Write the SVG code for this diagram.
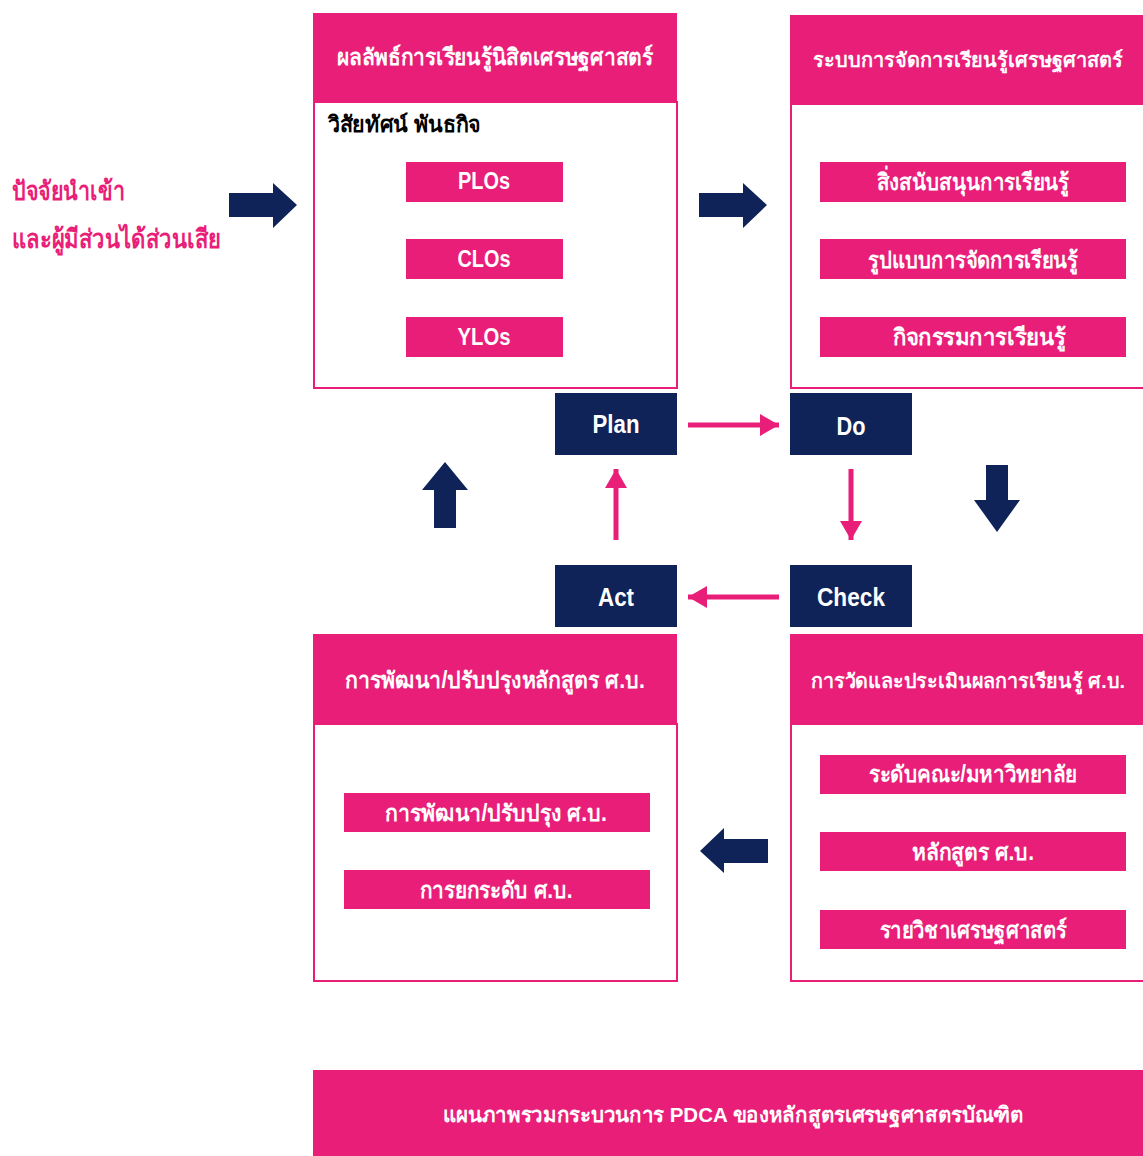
<svg xmlns="http://www.w3.org/2000/svg" width="1143" height="1156" viewBox="0 0 1143 1156">
<style>
.hdr{fill:#E91E79}
.body{fill:#fff;stroke:#E91E79;stroke-width:2}
.item{fill:#E91E79}
.pd{fill:#0F2358}
.navy{fill:#0F2358}
.t{font-family:"Liberation Sans","Noto Sans",sans-serif;font-weight:bold}
.w{fill:#fff}
.wc{fill:#fff;text-anchor:middle}
.pk{fill:#E91E79}
.conn{stroke:#E91E79;stroke-width:5;fill:none}
</style>
<defs>
<marker id="ah" markerUnits="userSpaceOnUse" markerWidth="20" markerHeight="22" refX="19" refY="11" orient="auto">
<path d="M0,0 L19,11 L0,22 Z" fill="#E91E79"/>
</marker>
</defs>
<rect width="1143" height="1156" fill="#fff"/>

<g id="inputs">
<text class="t pk" x="12" y="200" font-size="26" textLength="113" lengthAdjust="spacingAndGlyphs">ปัจจัยนำเข้า</text>
<text class="t pk" x="12" y="248" font-size="26" textLength="209" lengthAdjust="spacingAndGlyphs">และผู้มีส่วนได้ส่วนเสีย</text>
</g>

<g id="outcomes">
<rect class="body" x="314" y="102" width="363" height="286"/>
<rect class="hdr" x="313" y="13" width="364" height="90"/>
<text class="t wc" x="495" y="65" font-size="23" textLength="316" lengthAdjust="spacingAndGlyphs">ผลลัพธ์การเรียนรู้นิสิตเศรษฐศาสตร์</text>
<text class="t" x="328" y="132" font-size="22" fill="#000" textLength="153" lengthAdjust="spacingAndGlyphs">วิสัยทัศน์ พันธกิจ</text>
<rect class="item" x="406" y="162" width="157" height="40"/>
<text class="t wc" x="484" y="189" font-size="23" textLength="52" lengthAdjust="spacingAndGlyphs">PLOs</text>
<rect class="item" x="406" y="239" width="157" height="40"/>
<text class="t wc" x="484" y="267" font-size="23" textLength="53" lengthAdjust="spacingAndGlyphs">CLOs</text>
<rect class="item" x="406" y="317" width="157" height="40"/>
<text class="t wc" x="484" y="345" font-size="23" textLength="53" lengthAdjust="spacingAndGlyphs">YLOs</text>
</g>

<g id="system">
<rect class="body" x="791" y="104" width="360" height="284"/>
<rect class="hdr" x="790" y="15" width="353" height="89"/>
<text class="t wc" x="968" y="67" font-size="20" textLength="310" lengthAdjust="spacingAndGlyphs">ระบบการจัดการเรียนรู้เศรษฐศาสตร์</text>
<rect class="item" x="820" y="162" width="306" height="40"/>
<text class="t wc" x="973" y="190" font-size="23" textLength="192" lengthAdjust="spacingAndGlyphs">สิ่งสนับสนุนการเรียนรู้</text>
<rect class="item" x="820" y="239" width="306" height="40"/>
<text class="t wc" x="973" y="268" font-size="23" textLength="210" lengthAdjust="spacingAndGlyphs">รูปแบบการจัดการเรียนรู้</text>
<rect class="item" x="820" y="317" width="306" height="40"/>
<text class="t wc" x="979" y="345" font-size="23" textLength="173" lengthAdjust="spacingAndGlyphs">กิจกรรมการเรียนรู้</text>
</g>

<g id="plan">
<rect class="pd" x="555" y="393" width="122" height="62"/>
<text class="t wc" x="616" y="433" font-size="26" textLength="47" lengthAdjust="spacingAndGlyphs">Plan</text>
</g>
<g id="do">
<rect class="pd" x="790" y="393" width="122" height="62"/>
<text class="t wc" x="851" y="435" font-size="26" textLength="29" lengthAdjust="spacingAndGlyphs">Do</text>
</g>
<g id="act">
<rect class="pd" x="555" y="565" width="122" height="62"/>
<text class="t wc" x="616" y="606" font-size="26" textLength="36" lengthAdjust="spacingAndGlyphs">Act</text>
</g>
<g id="check">
<rect class="pd" x="790" y="565" width="122" height="62"/>
<text class="t wc" x="851" y="606" font-size="26" textLength="68" lengthAdjust="spacingAndGlyphs">Check</text>
</g>

<g id="improve">
<rect class="body" x="314" y="724" width="363" height="257"/>
<rect class="hdr" x="313" y="634" width="364" height="90"/>
<text class="t wc" x="495" y="688" font-size="23" textLength="300" lengthAdjust="spacingAndGlyphs">การพัฒนา/ปรับปรุงหลักสูตร ศ.บ.</text>
<rect class="item" x="344" y="793" width="306" height="39"/>
<text class="t wc" x="496" y="821" font-size="23" textLength="222" lengthAdjust="spacingAndGlyphs">การพัฒนา/ปรับปรุง ศ.บ.</text>
<rect class="item" x="344" y="870" width="306" height="39"/>
<text class="t wc" x="496" y="898" font-size="23" textLength="153" lengthAdjust="spacingAndGlyphs">การยกระดับ ศ.บ.</text>
</g>

<g id="assess">
<rect class="body" x="791" y="724" width="360" height="257"/>
<rect class="hdr" x="790" y="634" width="353" height="90"/>
<text class="t wc" x="968" y="688" font-size="20" textLength="314" lengthAdjust="spacingAndGlyphs">การวัดและประเมินผลการเรียนรู้ ศ.บ.</text>
<rect class="item" x="820" y="755" width="306" height="39"/>
<text class="t wc" x="973" y="782" font-size="23" textLength="208" lengthAdjust="spacingAndGlyphs">ระดับคณะ/มหาวิทยาลัย</text>
<rect class="item" x="820" y="832" width="306" height="39"/>
<text class="t wc" x="973" y="860" font-size="23" textLength="122" lengthAdjust="spacingAndGlyphs">หลักสูตร ศ.บ.</text>
<rect class="item" x="820" y="910" width="306" height="39"/>
<text class="t wc" x="973" y="938" font-size="23" textLength="187" lengthAdjust="spacingAndGlyphs">รายวิชาเศรษฐศาสตร์</text>
</g>

<g id="title">
<rect class="hdr" x="313" y="1070" width="830" height="86"/>
<text class="t wc" x="733" y="1122" font-size="21" textLength="581" lengthAdjust="spacingAndGlyphs">แผนภาพรวมกระบวนการ PDCA ของหลักสูตรเศรษฐศาสตรบัณฑิต</text>
</g>

<g id="connectors">
<polygon class="navy" points="229,193 273,193 273,183 297,205 273,228 273,217 229,217"/>
<polygon class="navy" points="699,193 743,193 743,183 767,205 743,228 743,217 699,217"/>
<polygon class="navy" points="434,528 434,490 422,490 445,462 468,490 456,490 456,528"/>
<polygon class="navy" points="986,465 1008,465 1008,500 1020,500 997,532 974,500 986,500"/>
<polygon class="navy" points="768,839 724,839 724,828 700,851 724,873 724,863 768,863"/>
<line class="conn" x1="688" y1="425" x2="779" y2="425" marker-end="url(#ah)"/>
<line class="conn" x1="851" y1="469" x2="851" y2="540" marker-end="url(#ah)"/>
<line class="conn" x1="779" y1="597" x2="688" y2="597" marker-end="url(#ah)"/>
<line class="conn" x1="616" y1="540" x2="616" y2="469" marker-end="url(#ah)"/>
</g>
</svg>
